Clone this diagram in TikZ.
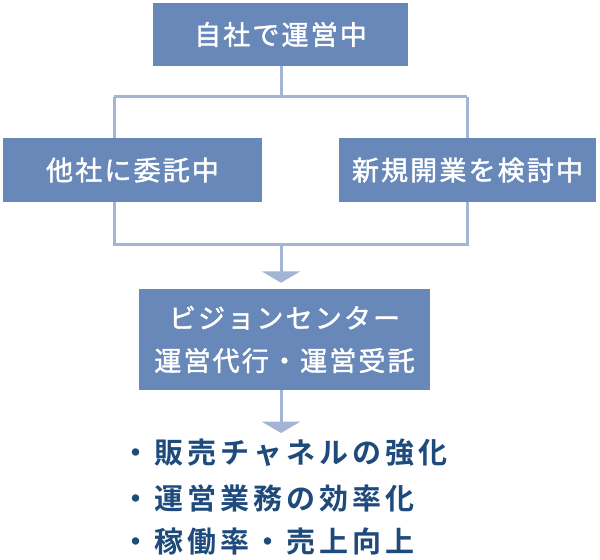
\documentclass[tikz,border=0pt]{standalone}
\usepackage{fontspec}
\usetikzlibrary{arrows.meta}
\newfontfamily\jpbox[LetterSpace=8,FakeBold=1.6]{Noto Sans CJK JP}
\newfontfamily\jplist[LetterSpace=14]{Noto Sans CJK JP Bold}
\definecolor{boxblue}{HTML}{6788B8}
\definecolor{lineblue}{HTML}{A4B4D4}
\definecolor{textblue}{HTML}{1E4A7C}
\tikzset{
  box/.style={fill=boxblue, draw=none, text=white, inner sep=0pt, align=center,
    font=\jpbox\fontsize{20.25pt}{32pt}\selectfont},
  conn/.style={draw=lineblue, line width=2.25pt},
  flowarrow/.style={conn, -{Triangle[width=28.5pt,length=8.5pt]}},
  item/.style={anchor=west, inner sep=0pt, text=textblue,
    font=\jplist\fontsize{21.75pt}{24pt}\selectfont}
}
\begin{document}
\begin{tikzpicture}[x=0.75pt,y=-0.75pt]
\useasboundingbox (0,0) rectangle (600,560);
\node[box, minimum width=255*0.75pt, minimum height=63*0.75pt] (top) at (280.5,34.5) {自社で運営中};
\node[box, minimum width=259*0.75pt, minimum height=64*0.75pt] (left) at (132.5,170) {他社に委託中};
\node[box, minimum width=257*0.75pt, minimum height=64*0.75pt] (right) at (467.5,170) {新規開業を検討中};
\node[box, minimum width=291*0.75pt, minimum height=101*0.75pt] (mid) at (284.5,339.5) {ビジョンセンター\\運営代行・運営受託};
\coordinate (j) at (281,97);
\coordinate (tl) at (114,97);
\coordinate (tr) at (467,97);
\coordinate (bl) at (114,244);
\coordinate (br) at (467,244);
\coordinate (bj) at (281,244);
\coordinate (tip) at (281,433);
\draw[conn] (top.south -| j) -- (j);
\draw[conn] (tl) -- (tr);
\draw[conn] (tl) -- (tl |- left.north);
\draw[conn] (tr) -- (tr |- right.north);
\draw[conn] (bl |- left.south) -- (bl) -- (br) -- (br |- right.south);
\draw[flowarrow, shorten >=4.5pt] (bj) -- (bj |- mid.north);
\draw[flowarrow] (bj |- mid.south) -- (tip);
\node[item] (i1) at (121,453) {・販売チャネルの強化};
\node[item] (i2) at (121,498) {・運営業務の効率化};
\node[item] (i3) at (121,542) {・稼働率・売上向上};
\end{tikzpicture}
\end{document}
